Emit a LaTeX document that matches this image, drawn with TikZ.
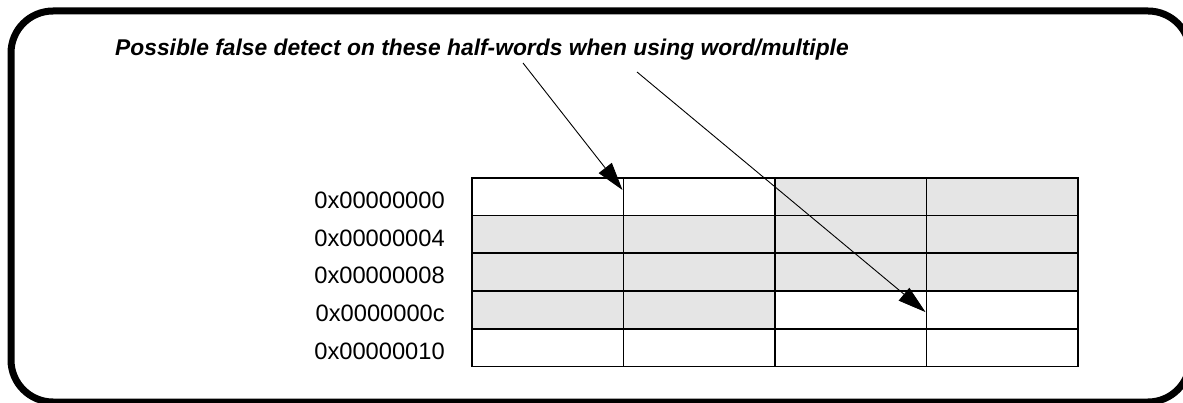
\documentclass[tikz,border=0pt]{standalone}
\usepackage{fontspec}
\setmainfont{Liberation Sans}
\usetikzlibrary{arrows.meta,calc}
\begin{document}
\begin{tikzpicture}[x=1pt,y=-1pt,
  cell/.style={draw, line width=1.7pt, minimum width=151.5pt, minimum height=37.7pt, inner sep=0pt, anchor=north west},
  shaded/.style={cell, fill=black!10},
  plain/.style={cell, fill=white},
  addr/.style={anchor=base east, inner sep=0pt, font=\fontsize{23.7}{28}\selectfont},
  frame/.style={line width=7pt, rounded corners=42pt},
  pointer/.style={line width=0.9pt, -{Triangle[length=28pt,width=16.5pt]}},
  title/.style={anchor=base west, inner sep=0pt, font=\fontsize{22.8}{27}\selectfont\bfseries\itshape}]
\useasboundingbox (0,0) rectangle (1183,403);
\draw[frame] (11,11) rectangle (1190,402);
\node[title] (t) at (115,55.5) {Possible false detect on these half-words when using word/multiple};
% table
\foreach \r/\a/\b/\c/\d in {0/plain/plain/shaded/shaded,1/shaded/shaded/shaded/shaded,2/shaded/shaded/shaded/shaded,3/shaded/shaded/plain/plain,4/plain/plain/plain/plain}{
  \node[\a] (c\r0) at (471,177+37.7*\r) {};
  \node[\b] (c\r1) at (622.5,177+37.7*\r) {};
  \node[\c] (c\r2) at (774,177+37.7*\r) {};
  \node[\d] (c\r3) at (925.5,177+37.7*\r) {};
}
\node[addr] (a0) at (445,208.5) {0x00000000};
\node[addr] (a1) at (445,246.2) {0x00000004};
\node[addr] (a2) at (445,283.9) {0x00000008};
\node[addr] (a3) at (445,321.6) {0x0000000c};
\node[addr] (a4) at (445,359.3) {0x00000010};
\coordinate (s1) at (523,63);
\coordinate (s2) at (637,72);
\coordinate (e1) at ($(c01.north west)+(0,13)$);
\coordinate (e2) at ($(c33.north west)+(0,22)$);
\draw[pointer] (s1) -- (e1);
\draw[pointer] (s2) -- (e2);
\end{tikzpicture}
\end{document}
